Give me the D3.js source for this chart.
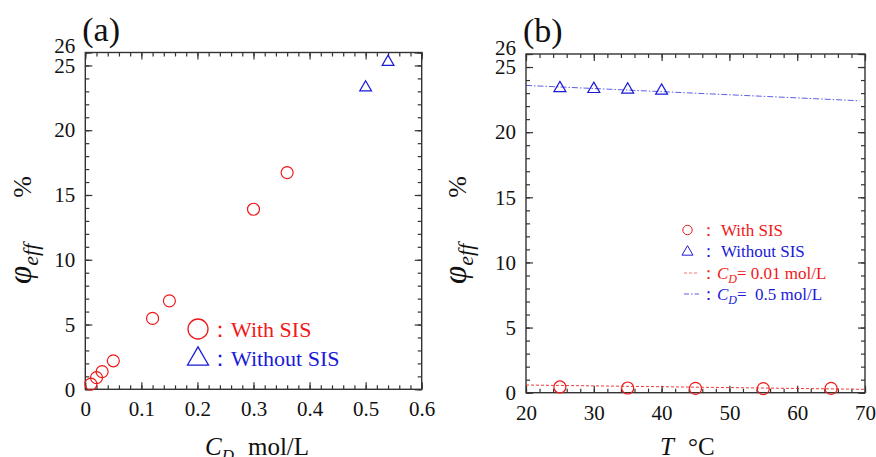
<!DOCTYPE html>
<html>
<head>
<meta charset="utf-8">
<script src="https://cdn.jsdelivr.net/npm/d3@7"></script>
<style>
  body { margin: 0; background: #fff; }
  svg text { font-family: 'Liberation Serif', 'Times New Roman', serif; }
</style>
</head>
<body>
<div id="container"></div>
<script>
// panel (a): phi_eff vs C_D
const cdWith = [0.01, 0.02, 0.03, 0.05, 0.12, 0.15, 0.30, 0.36];
const phiWith = [0.4, 0.9, 1.36, 2.2, 5.47, 6.83, 13.9, 16.73];
const cdWithout = [0.5, 0.54];
const phiWithout = [23.3, 25.27];

// panel (b): phi_eff vs T
const tWith = [25, 35, 45, 55, 65];
const phiWithT = [0.44, 0.36, 0.33, 0.31, 0.33];
const tWithout = [25, 30, 35, 40];
const phiWithoutT = [23.37, 23.31, 23.26, 23.18];
const fitLowT = [20, 70];
const fitLowPhi = [0.59, 0.26];
const fitHighT = [20, 69.2];
const fitHighPhi = [23.59, 22.41];

// ticks
const yMajor = [0, 5, 10, 15, 20, 25, 26];
const yMinor = d3.range(0, 27, 1);
const cdMajor = [0, 0.1, 0.2, 0.3, 0.4, 0.5, 0.6];
const cdMinor = d3.range(0, 0.6001, 0.02);
const tMajor = [20, 30, 40, 50, 60, 70];
const tMinor = d3.range(20, 70.001, 2);

const RED = "#f01818", BLUE = "#1a1ad8";
const width = 876, height = 457;

const svg = d3.select("#container").append("svg")
  .attr("width", width)
  .attr("height", height);

function panel(cfg) {
  const x = d3.scaleLinear().domain(cfg.xDomain).range([cfg.left, cfg.right]);
  const y = d3.scaleLinear().domain([0, 26]).range([cfg.bottom, cfg.top]);
  const g = svg.append("g");

  // inward ticks on all sides
  const sides = [
    [d3.axisBottom, x, cfg.bottom, true],
    [d3.axisTop, x, cfg.top, false],
    [d3.axisLeft, y, cfg.left, true],
    [d3.axisRight, y, cfg.right, false]
  ];
  sides.forEach(([ax, sc, pos, labels]) => {
    const horiz = sc === x;
    const tr = horiz ? `translate(0,${pos})` : `translate(${pos},0)`;
    const minor = g.append("g").attr("transform", tr)
      .call(ax(sc).tickValues(horiz ? cfg.xMinor : yMinor).tickSize(-4).tickFormat(""));
    const major = g.append("g").attr("transform", tr)
      .call(ax(sc).tickValues(horiz ? cfg.xMajor : yMajor).tickSize(-7)
        .tickPadding(horiz ? 12 : 10)
        .tickFormat(labels ? (horiz ? cfg.xFormat : d3.format("d")) : ""));
    [minor, major].forEach(a => {
      a.select(".domain").remove();
      a.selectAll("line").attr("stroke", "#333").attr("stroke-width", 1.2);
    });
    major.selectAll("text").attr("fill", "#111").style("font-size", "21px");
    if (!horiz && labels) {
      major.selectAll(".tick text").filter(d => d === 26).attr("dy", "0.02em");
    }
  });

  g.append("rect")
    .attr("x", cfg.left).attr("y", cfg.top)
    .attr("width", cfg.right - cfg.left).attr("height", cfg.bottom - cfg.top)
    .attr("fill", "none").attr("stroke", "#333").attr("stroke-width", 1.4);

  // panel letter
  g.append("text").attr("x", cfg.left - 3).attr("y", cfg.top - 12)
    .style("font-size", "34px").attr("fill", "#111").text(cfg.letter);

  // y label
  const yl = g.append("text")
    .attr("transform", `translate(${cfg.yLabelX},284) rotate(-90)`)
    .attr("fill", "#111");
  yl.append("tspan").style("font-style", "italic").style("font-size", "33px").text("φ");
  yl.append("tspan").style("font-style", "italic").style("font-size", "22px")
    .attr("dy", 7).text("eff");
  yl.append("tspan").style("font-size", "26px").attr("dy", -7).attr("dx", 46).text("%");

  return { g, x, y };
}

function circles(g, xs, ys, x, y, r) {
  g.selectAll(null).data(xs).enter().append("circle")
    .attr("cx", d => x(d)).attr("cy", (d, i) => y(ys[i])).attr("r", r)
    .attr("fill", "none").attr("stroke", RED).attr("stroke-width", 1.2);
}
function triangles(g, xs, ys, x, y, size) {
  g.selectAll(null).data(xs).enter().append("path")
    .attr("d", d3.symbol().type(d3.symbolTriangle).size(size))
    .attr("transform", (d, i) => `translate(${x(d)},${y(ys[i])})`)
    .attr("fill", "none").attr("stroke", BLUE).attr("stroke-width", 1.2);
}

/* PANEL A */
const A = panel({
  left: 85.3, right: 421.7, top: 52.5, bottom: 389.3,
  xDomain: [0, 0.6], xMajor: cdMajor, xMinor: cdMinor,
  xFormat: d => d === 0 ? "0" : d3.format(".1f")(d),
  letter: "(a)", yLabelX: 31
});
circles(A.g, cdWith, phiWith, A.x, A.y, 6);
triangles(A.g, cdWithout, phiWithout, A.x, A.y, 60);

// x label (a)
const xa = A.g.append("text").attr("x", 205).attr("y", 455).attr("fill", "#111").style("font-size", "25px");
xa.append("tspan").style("font-style", "italic").text("C");
xa.append("tspan").style("font-style", "italic").style("font-size", "17px").attr("dy", 6).text("D");
xa.append("tspan").attr("dy", -6).attr("dx", 14).text("mol/L");

// legend (a)
A.g.append("circle").attr("cx", 198).attr("cy", 329).attr("r", 10)
  .attr("fill", "none").attr("stroke", RED).attr("stroke-width", 1.3);
A.g.append("path").attr("d", d3.symbol().type(d3.symbolTriangle).size(190))
  .attr("transform", "translate(198,359)")
  .attr("fill", "none").attr("stroke", BLUE).attr("stroke-width", 1.3);
A.g.append("text").attr("x", 209).attr("y", 337).attr("fill", RED).style("font-size", "22px").text("：With SIS");
A.g.append("text").attr("x", 209).attr("y", 366).attr("fill", BLUE).style("font-size", "22px").text("：Without SIS");

/* PANEL B */
const B = panel({
  left: 526, right: 865, top: 54, bottom: 392.7,
  xDomain: [20, 70], xMajor: tMajor, xMinor: tMinor,
  xFormat: d3.format("d"),
  letter: "(b)", yLabelX: 466
});

const line = d3.line();
B.g.append("path")
  .attr("d", line(fitLowT.map((t, i) => [B.x(t), B.y(fitLowPhi[i])])))
  .attr("fill", "none").attr("stroke", RED).attr("stroke-opacity", 0.85)
  .attr("stroke-width", 1).attr("stroke-dasharray", "3,2");
B.g.append("path")
  .attr("d", line(fitHighT.map((t, i) => [B.x(t), B.y(fitHighPhi[i])])))
  .attr("fill", "none").attr("stroke", BLUE).attr("stroke-opacity", 0.7)
  .attr("stroke-width", 1).attr("stroke-dasharray", "6,2,1.5,2");

circles(B.g, tWith, phiWithT, B.x, B.y, 6);
triangles(B.g, tWithout, phiWithoutT, B.x, B.y, 62);

// x label (b)
const xb = B.g.append("text").attr("x", 660).attr("y", 455).attr("fill", "#111").style("font-size", "25px");
xb.append("tspan").style("font-style", "italic").text("T");
xb.append("tspan").attr("dx", 14).text("°C");

// legend (b)
const lg = B.g.append("g").style("font-size", "17px");
lg.append("circle").attr("cx", 687.5).attr("cy", 230).attr("r", 4.7)
  .attr("fill", "none").attr("stroke", RED).attr("stroke-width", 1);
lg.append("path").attr("d", d3.symbol().type(d3.symbolTriangle).size(52))
  .attr("transform", "translate(687.5,252)")
  .attr("fill", "none").attr("stroke", BLUE).attr("stroke-width", 1);
lg.append("line").attr("x1", 684).attr("x2", 699).attr("y1", 273).attr("y2", 273)
  .attr("stroke", RED).attr("stroke-opacity", 0.6).attr("stroke-dasharray", "3,2");
lg.append("line").attr("x1", 684).attr("x2", 699).attr("y1", 294).attr("y2", 294)
  .attr("stroke", BLUE).attr("stroke-opacity", 0.7).attr("stroke-dasharray", "5,2,1.5,2");

lg.append("text").attr("x", 700).attr("y", 236).attr("fill", RED).text("： With SIS");
lg.append("text").attr("x", 700).attr("y", 257).attr("fill", BLUE).text("： Without SIS");
const r3 = lg.append("text").attr("x", 700).attr("y", 279).attr("fill", RED);
r3.append("tspan").text("：");
r3.append("tspan").style("font-style", "italic").text("C");
r3.append("tspan").style("font-style", "italic").style("font-size", "12px").attr("dy", 4).text("D");
r3.append("tspan").attr("dy", -4).text("= 0.01 mol/L");
const r4 = lg.append("text").attr("x", 700).attr("y", 300).attr("fill", BLUE);
r4.append("tspan").text("：");
r4.append("tspan").style("font-style", "italic").text("C");
r4.append("tspan").style("font-style", "italic").style("font-size", "12px").attr("dy", 4).text("D");
r4.append("tspan").attr("dy", -4).text("=\u00a0 0.5 mol/L");
</script>
</body>
</html>
